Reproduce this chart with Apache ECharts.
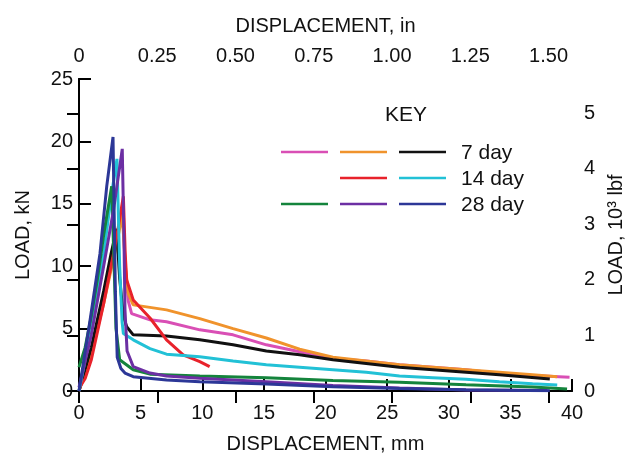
<!DOCTYPE html>
<html><head><meta charset="utf-8">
<script src="https://cdn.jsdelivr.net/npm/echarts@6/dist/echarts.min.js"></script>
<style>html,body{margin:0;padding:0;background:#fff}#c{width:638px;height:454px}</style>
</head><body><div id="c"></div>
<script>
// Displacement (mm), load (kN) pairs
const day7Pink = [[0,0],[1,3],[2,7.5],[3,12],[3.54,14.8],[3.75,10],[4.0,7.2],[4.27,6.2],[5.76,5.7],[7.1,5.55],[9.8,4.9],[12.5,4.5],[15.2,3.7],[17.9,3.15],[20.6,2.6],[23.3,2.4],[26.0,2.1],[28.7,1.9],[31.4,1.7],[34.1,1.4],[36.8,1.25],[39.8,1.1]];
const day7Orange = [[0,0],[1,3],[2,7],[3,11.5],[3.51,14.1],[3.8,9.5],[4.0,7.8],[4.4,6.9],[7.1,6.5],[9.8,5.8],[12.5,5.0],[15.2,4.25],[17.9,3.35],[20.6,2.7],[23.3,2.4],[26.0,2.1],[28.7,1.9],[31.4,1.7],[34.1,1.5],[36.8,1.3],[38.8,1.15]];
const day7Black = [[0,0],[1,3.5],[2,8],[2.6,11],[3.05,13.0],[3.3,9],[3.6,6],[3.87,5.15],[4.4,4.5],[7.1,4.4],[9.8,4.1],[12.5,3.7],[15.2,3.2],[17.9,2.9],[20.6,2.5],[23.3,2.2],[26.0,1.9],[28.7,1.7],[31.4,1.5],[34.1,1.3],[38.2,0.96]];
const day14Red = [[0,0.2],[0.5,1],[1,2.5],[2,7],[3,12],[3.6,15.6],[3.75,11],[3.87,8.9],[4.4,7.3],[5.76,5.85],[7.1,4.1],[8.45,2.9],[9.8,2.35],[10.6,1.95]];
const day14Cyan = [[0,0],[1,5],[2,11],[2.6,15.5],[3.08,18.6],[3.3,10],[3.5,5.5],[3.6,4.6],[4.4,4.1],[5.76,3.4],[7.1,2.95],[9.8,2.75],[12.5,2.4],[15.2,2.1],[17.9,1.9],[20.6,1.7],[23.3,1.5],[26.0,1.2],[28.7,1.07],[31.4,0.94],[34.1,0.75],[36.8,0.59],[38.8,0.48]];
const day28Green = [[0,1.9],[0.5,3.5],[1,6],[1.5,9],[2,12.5],[2.65,16.4],[2.85,10],[3.0,5],[3.3,2.5],[4.4,1.7],[5.76,1.35],[9.8,1.2],[15.2,1.06],[20.6,0.85],[26.0,0.7],[31.4,0.5],[36.8,0.32],[39.6,0.16]];
const day28Purple = [[0,0.3],[1,4.5],[2,10],[2.8,14.5],[3.51,19.4],[3.65,12],[3.73,6.5],[3.9,3.2],[4.4,1.95],[5.76,1.44],[7.1,1.2],[9.8,1.03],[15.2,0.75],[20.6,0.45],[26.0,0.24],[31.4,0.08],[38.0,0.05]];
const day28Blue = [[0,0],[0.9,5.7],[1.7,11],[2.25,16.4],[2.76,20.35],[2.95,8],[3.1,2.7],[3.4,1.8],[3.73,1.44],[4.4,1.15],[7.1,0.88],[9.8,0.75],[15.2,0.56],[20.6,0.35],[26.0,0.2],[31.4,0.1],[38.2,0.02]];

const mmTicks = [0,5,10,15,20,25,30,35,40];
const inTickLabels = ['0','0.25','0.50','0.75','1.00','1.25','1.50'];
const kipTicks = [0,1,2,3,4,5];
const keyRows = ['7 day','14 day','28 day'];

const F = 'Liberation Sans, Arial, sans-serif';
const colors = {pink:'#d94fb5',orange:'#f0932c',black:'#111111',red:'#e8222b',cyan:'#22c1d6',green:'#14843c',purple:'#6c2fa3',blue:'#2c3797'};

const seriesDefs = [
  ['7 day a', day7Pink, colors.pink],
  ['7 day b', day7Orange, colors.orange],
  ['7 day c', day7Black, colors.black],
  ['14 day a', day14Red, colors.red],
  ['14 day b', day14Cyan, colors.cyan],
  ['28 day a', day28Green, colors.green],
  ['28 day b', day28Purple, colors.purple],
  ['28 day c', day28Blue, colors.blue]
];

const axisCommon = {
  axisLine:{show:true,lineStyle:{color:'#000',width:2}},
  axisTick:{show:true,inside:true,length:12,lineStyle:{color:'#000',width:2}},
  splitLine:{show:false},
  axisLabel:{color:'#111',fontFamily:F,fontSize:20},
  nameTextStyle:{color:'#111',fontFamily:F,fontSize:20},
  nameLocation:'middle'
};

const chart = echarts.init(document.getElementById('c'), null, {renderer:'canvas'});
const MM_PER_IN = 25.4, KN_PER_KIP = 4.448;

// legend key graphics
const keyGraphics = [{type:'text',x:385,y:115,style:{text:'KEY',font:'21px '+F,fill:'#111',verticalAlign:'middle'}}];
const keyColors = [[colors.pink,colors.orange,colors.black],[null,colors.red,colors.cyan],[colors.green,colors.purple,colors.blue]];
const rowY = [152,178,204];
const colX = [281,340,399];
keyColors.forEach((row,i)=>{
  row.forEach((c,j)=>{
    if(c) keyGraphics.push({type:'line',shape:{x1:colX[j],y1:rowY[i],x2:colX[j]+47,y2:rowY[i]},style:{stroke:c,lineWidth:2.5}});
  });
  keyGraphics.push({type:'text',x:461,y:rowY[i]+1,style:{text:keyRows[i],font:'21px '+F,fill:'#111',verticalAlign:'middle'}});
});

chart.setOption({
  animation:false,
  grid:{left:79,right:66,top:79,bottom:63,outerBoundsMode:'none',containLabel:false},
  xAxis:[
    Object.assign({},axisCommon,{type:'value',position:'bottom',min:mmTicks[0],max:mmTicks[mmTicks.length-1],interval:5,
      name:'DISPLACEMENT, mm',nameGap:43,axisLabel:Object.assign({},axisCommon.axisLabel,{margin:12})}),
    Object.assign({},axisCommon,{type:'value',position:'top',min:0,max:40/MM_PER_IN,interval:0.25,
      name:'DISPLACEMENT, in',nameGap:43,
      axisLabel:Object.assign({},axisCommon.axisLabel,{margin:13,showMaxLabel:false,
        formatter:v=>{const i=Math.round(v/0.25);return Math.abs(v-i*0.25)<1e-6 && inTickLabels[i]!==undefined?inTickLabels[i]:'';}})})
  ],
  yAxis:[
    Object.assign({},axisCommon,{type:'value',position:'left',min:0,max:25,interval:5,name:'LOAD, kN',nameGap:46,nameRotate:90,
      axisLabel:Object.assign({},axisCommon.axisLabel,{margin:6})}),
    Object.assign({},axisCommon,{type:'value',position:'right',min:0,max:25/KN_PER_KIP,interval:1,name:'LOAD, 10\u00b3 lbf',nameGap:33,nameRotate:90,
      axisLabel:Object.assign({},axisCommon.axisLabel,{margin:12,showMaxLabel:false,
        formatter:v=>{const r=Math.round(v);return Math.abs(v-r)<1e-6 && kipTicks.indexOf(r)>=0?String(r):'';}})})
  ],
  series: seriesDefs.map(([n,d,c])=>({name:n,type:'line',xAxisIndex:0,yAxisIndex:0,data:d,showSymbol:false,symbol:'none',
    lineStyle:{color:c,width:3},itemStyle:{color:c},smooth:false})),
  graphic: keyGraphics
});
</script></body></html>
